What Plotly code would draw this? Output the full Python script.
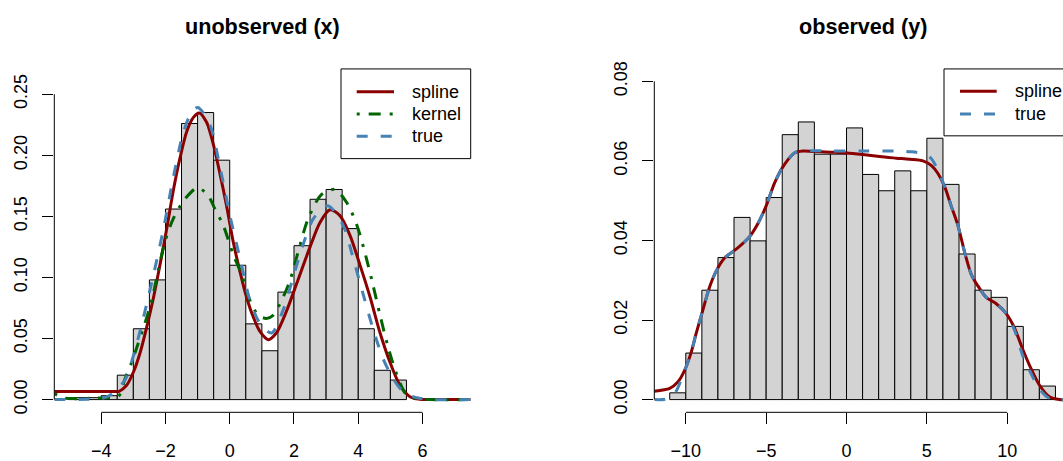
import plotly.graph_objects as go

W, H = 1063, 461
FONT = "Liberation Sans, Arial, Helvetica, sans-serif"

# ---------------- data: left panel "unobserved (x)" ----------------
left_bin_left = [-5.0, -4.5, -4.0, -3.5, -3.0, -2.5, -2.0, -1.5, -1.0, -0.5, 0.0,
                 0.5, 1.0, 1.5, 2.0, 2.5, 3.0, 3.5, 4.0, 4.5, 5.0]
left_bin_width = 0.5
left_density = [0.0016, 0.0016, 0.0032, 0.020, 0.058, 0.098, 0.156, 0.226, 0.235, 0.196, 0.110,
                0.062, 0.040, 0.088, 0.126, 0.164, 0.172, 0.140, 0.058, 0.024, 0.016]

left_spline_x = [-5.46, -4.5, -3.6, -3.44, -3.21, -3.0, -2.79, -2.58, -2.37, -2.17, -1.96, -1.75,
                 -1.54, -1.33, -1.13, -0.95, -0.72, -0.51, -0.305, -0.098, 0.11, 0.317, 0.524,
                 0.73, 0.94, 1.2, 1.45, 1.76, 2.07, 2.5, 2.81, 3.12, 3.43, 3.74, 4.05, 4.37,
                 4.68, 4.99, 5.30, 5.61, 5.92, 6.5, 7.5]
left_spline_y = [0.0066, 0.0066, 0.0066, 0.0068, 0.0117, 0.0224, 0.0384, 0.0598, 0.0838, 0.1105,
                 0.140, 0.172, 0.1987, 0.220, 0.231, 0.2347, 0.227, 0.209, 0.185, 0.1586, 0.129,
                 0.105, 0.0838, 0.0678, 0.0558, 0.0491, 0.0545, 0.072, 0.094, 0.125, 0.145,
                 0.1554, 0.1506, 0.1346, 0.1105, 0.0838, 0.0545, 0.0304, 0.0117, 0.0024, 0.0003,
                 0.0, 0.0]

left_kernel_x = [-5.46, -5.2, -4.8, -4.2, -3.8, -3.47, -3.26, -3.06, -2.85, -2.64, -2.43, -2.23,
                 -2.02, -1.76, -1.40, -1.0, -0.67, -0.46, -0.20, 0.11, 0.37, 0.63, 0.89, 1.14,
                 1.35, 1.61, 1.87, 2.13, 2.44, 2.86, 3.28, 3.65, 3.96, 4.17, 4.43, 4.69, 4.95,
                 5.21, 5.47, 5.73, 6.2, 7.5]
left_kernel_y = [0.005, 0.0015, 0.0008, 0.0012, 0.0015, 0.0024, 0.017, 0.030, 0.046, 0.0625,
                 0.081, 0.105, 0.129, 0.148, 0.164, 0.1735, 0.167, 0.156, 0.1426, 0.1186, 0.1025,
                 0.081, 0.069, 0.0665, 0.069, 0.081, 0.097, 0.121, 0.148, 0.168, 0.172, 0.161,
                 0.1426, 0.124, 0.097, 0.0678, 0.041, 0.0197, 0.005, 0.001, 0.0, 0.0]

left_true_x = [-5.46, -4.5, -4.0, -3.73, -3.26, -3.0, -2.68, -2.37, -2.06, -1.75, -1.43, -1.17,
               -0.99, -0.62, -0.305, 0.006, 0.317, 0.63, 0.94, 1.3, 1.66, 1.97, 2.28, 2.6, 3.05,
               3.53, 3.84, 4.15, 4.47, 4.78, 5.09, 5.40, 5.82, 6.3, 7.5]
left_true_y = [0.0, 0.0003, 0.001, 0.0035, 0.016, 0.0357, 0.0678, 0.1025, 0.140, 0.1826, 0.220,
               0.236, 0.2392, 0.2253, 0.1906, 0.1506, 0.1158, 0.0811, 0.0625, 0.0545, 0.0731,
               0.0998, 0.1266, 0.148, 0.1586, 0.1426, 0.1158, 0.0865, 0.0571, 0.0331, 0.0171,
               0.0064, 0.0015, 0.0, 0.0]

left_xticks = [-4, -2, 0, 2, 4, 6]
left_yticks = [0.00, 0.05, 0.10, 0.15, 0.20, 0.25]
left_legend = ["spline", "kernel", "true"]

# ---------------- data: right panel "observed (y)" ----------------
right_bin_left = [-11, -10, -9, -8, -7, -6, -5, -4, -3, -2, -1, 0,
                  1, 2, 3, 4, 5, 6, 7, 8, 9, 10, 11, 12]
right_bin_width = 1.0
right_density = [0.0017, 0.0117, 0.0275, 0.0357, 0.0458, 0.0399, 0.0508, 0.0666, 0.0698, 0.0617,
                 0.0617, 0.0683, 0.0566, 0.0525, 0.0575, 0.0525, 0.0657, 0.0541, 0.0366, 0.0275,
                 0.0257, 0.0184, 0.0075, 0.0034]

right_spline_x = [-11.96, -11.0, -10.5, -10.08, -9.67, -9.35, -8.94, -8.53, -8.11, -7.59, -7.07,
                  -6.55, -6.04, -5.52, -5.0, -4.48, -3.96, -3.24, -2.72, -2.1, -1.06, 0.0, 1.01,
                  2.05, 3.09, 3.92, 4.75, 5.27, 5.68, 6.10, 6.51, 6.93, 7.34, 7.76, 8.17, 8.69,
                  9.32, 9.94, 10.45, 10.97, 11.49, 12.01, 12.63, 13.25, 13.96]
right_spline_y = [0.0021, 0.0028, 0.0044, 0.0073, 0.0118, 0.0167, 0.0225, 0.0282, 0.0323, 0.0356,
                  0.0372, 0.0389, 0.0409, 0.0442, 0.0487, 0.0544, 0.0585, 0.062, 0.0625, 0.0624,
                  0.0622, 0.062, 0.0616, 0.0611, 0.0607, 0.0604, 0.060, 0.0589, 0.0569, 0.0536,
                  0.0487, 0.0438, 0.0372, 0.0315, 0.0286, 0.0257, 0.0241, 0.0216, 0.018, 0.0126,
                  0.0077, 0.0036, 0.0007, 0.0, 0.0]

right_true_x = [-11.96, -11.3, -10.7, -10.19, -9.67, -9.35, -8.94, -8.53, -8.11, -7.59, -7.07,
                -6.55, -6.04, -5.52, -5.0, -4.48, -3.96, -3.24, -2.72, -1.0, 1.0, 3.0, 4.0, 4.78,
                5.27, 5.68, 6.10, 6.51, 6.93, 7.34, 7.76, 8.17, 8.69, 9.32, 9.94, 10.45, 10.97,
                11.49, 12.01, 12.63, 13.25, 13.96]
right_true_y = [0.0, 0.0001, 0.0015, 0.006, 0.0118, 0.0167, 0.0225, 0.0282, 0.0323, 0.0356,
                0.0372, 0.0389, 0.0409, 0.0442, 0.0487, 0.0544, 0.0585, 0.062, 0.0625, 0.0625,
                0.0625, 0.0625, 0.0623, 0.0618, 0.0606, 0.0577, 0.0536, 0.0487, 0.0438, 0.0372,
                0.0315, 0.0286, 0.0257, 0.0241, 0.0216, 0.0175, 0.011, 0.0065, 0.0026, 0.0003,
                0.0, 0.0]

right_xticks = [-10, -5, 0, 5, 10]
right_yticks = [0.00, 0.02, 0.04, 0.06, 0.08]
right_legend = ["spline", "true"]

# ---------------- styles ----------------
BAR_FILL = "#D3D3D3"
C_SPLINE = "#8B0000"
C_KERNEL = "#006400"
C_TRUE = "#4682B4"
DASH_KERNEL = "3px,9px,12px,9px"
DASH_TRUE = "11px,13px"
LW = 3


def xp(px):
    return px / W


def yp(py):
    return 1 - py / H


L_DOM = [xp(54.3), xp(470.7)]
R_DOM = [xp(654.3), 1.0]
Y_DOM = [yp(414.3), yp(62.8)]

fig = go.Figure()

# left panel
fig.add_trace(go.Bar(x=left_bin_left, y=left_density, width=left_bin_width, offset=0,
                     marker=dict(color=BAR_FILL, line=dict(color="black", width=1)),
                     xaxis="x", yaxis="y", showlegend=False, hoverinfo="skip"))
fig.add_trace(go.Scatter(x=left_spline_x, y=left_spline_y, mode="lines",
                         line=dict(color=C_SPLINE, width=LW, shape="spline", smoothing=0.8),
                         xaxis="x", yaxis="y", showlegend=False))
fig.add_trace(go.Scatter(x=left_kernel_x, y=left_kernel_y, mode="lines",
                         line=dict(color=C_KERNEL, width=LW, dash=DASH_KERNEL, shape="spline", smoothing=0.8),
                         xaxis="x", yaxis="y", showlegend=False))
fig.add_trace(go.Scatter(x=left_true_x, y=left_true_y, mode="lines",
                         line=dict(color=C_TRUE, width=LW, dash=DASH_TRUE, shape="spline", smoothing=0.8),
                         xaxis="x", yaxis="y", showlegend=False))

# right panel
fig.add_trace(go.Bar(x=right_bin_left, y=right_density, width=right_bin_width, offset=0,
                     marker=dict(color=BAR_FILL, line=dict(color="black", width=1)),
                     xaxis="x2", yaxis="y2", showlegend=False, hoverinfo="skip"))
fig.add_trace(go.Scatter(x=right_spline_x, y=right_spline_y, mode="lines",
                         line=dict(color=C_SPLINE, width=LW, shape="spline", smoothing=0.8),
                         xaxis="x2", yaxis="y2", showlegend=False))
fig.add_trace(go.Scatter(x=right_true_x, y=right_true_y, mode="lines",
                         line=dict(color=C_TRUE, width=LW, dash=DASH_TRUE, shape="spline", smoothing=0.8),
                         xaxis="x2", yaxis="y2", showlegend=False))

tickfont = dict(family=FONT, size=18, color="black")


def xaxis(domain, rng, ticks, anchor):
    return dict(domain=domain, range=rng, anchor=anchor, tickvals=ticks,
                ticktext=[str(t).replace("-", "\u2212") for t in ticks],
                ticks="outside", ticklen=11, tickwidth=1, tickcolor="black",
                showline=False, showgrid=False, zeroline=False, tickfont=tickfont,
                ticklabelstandoff=11, fixedrange=True)


def yaxis(domain, rng, ticks, anchor):
    return dict(domain=domain, range=rng, anchor=anchor, tickvals=ticks,
                ticktext=["%.2f" % t for t in ticks], tickangle=-90,
                ticks="outside", ticklen=11, tickwidth=1, tickcolor="black",
                showline=False, showgrid=False, zeroline=False, tickfont=tickfont,
                ticklabelstandoff=8, fixedrange=True)


shapes = []
annotations = []

# axis lines (R style: from first to last tick)
for xr, yr, dom, xt, yt in [("x", "y", L_DOM, left_xticks, left_yticks),
                            ("x2", "y2", R_DOM, right_xticks, right_yticks)]:
    shapes.append(dict(type="line", xref=xr, yref="paper", x0=min(xt), x1=max(xt),
                       y0=Y_DOM[0], y1=Y_DOM[0], line=dict(color="black", width=1)))
    shapes.append(dict(type="line", xref="paper", yref=yr, x0=dom[0], x1=dom[0],
                       y0=min(yt), y1=max(yt), line=dict(color="black", width=1)))

# titles
annotations.append(dict(text="<b>unobserved (x)</b>", x=xp(262.5), y=yp(20), xref="paper", yref="paper",
                        showarrow=False, xanchor="center", yanchor="middle",
                        font=dict(family=FONT, size=21.6, color="black")))
annotations.append(dict(text="<b>observed (y)</b>", x=xp(862.5), y=yp(20), xref="paper", yref="paper",
                        showarrow=False, xanchor="center", yanchor="middle",
                        font=dict(family=FONT, size=21.6, color="black")))

# legends (drawn manually, R style box)
styles = {"spline": (C_SPLINE, "solid"), "kernel": (C_KERNEL, DASH_KERNEL), "true": (C_TRUE, DASH_TRUE)}


def legend(box, line_x, text_x, rows, labels):
    shapes.append(dict(type="rect", xref="paper", yref="paper", x0=xp(box[0]), x1=xp(box[1]),
                       y0=yp(box[3]), y1=yp(box[2]), line=dict(color="black", width=1)))
    for lab, ry in zip(labels, rows):
        col, dash = styles[lab]
        shapes.append(dict(type="line", xref="paper", yref="paper", x0=xp(line_x[0]), x1=xp(line_x[1]),
                           y0=yp(ry), y1=yp(ry), line=dict(color=col, width=LW, dash=dash)))
        annotations.append(dict(text=lab, x=xp(text_x), y=yp(ry), xref="paper", yref="paper",
                                showarrow=False, xanchor="left", yanchor="middle",
                                font=dict(family=FONT, size=18, color="black")))


legend((341, 470.7, 63.3, 155), (356.7, 394), 410, [86.7, 109.3, 132], left_legend)
legend((944, 1090, 63.3, 131.7), (960, 996.7), 1012.7, [86, 109.3], right_legend)

fig.update_layout(
    width=W, height=H, margin=dict(l=0, r=0, t=0, b=0),
    paper_bgcolor="white", plot_bgcolor="white",
    barmode="overlay", showlegend=False,
    xaxis=xaxis(L_DOM, [-5.46, 7.50], left_xticks, "y"),
    yaxis=yaxis(Y_DOM, [-0.0104, 0.2711], left_yticks, "x"),
    xaxis2=xaxis(R_DOM, [-11.96, 13.47], right_xticks, "y2"),
    yaxis2=yaxis(Y_DOM, [-0.0032, 0.08325], right_yticks, "x2"),
    shapes=shapes, annotations=annotations,
    font=dict(family=FONT, size=18, color="black"),
)

fig.write_html("out.html", config={"displayModeBar": False})
